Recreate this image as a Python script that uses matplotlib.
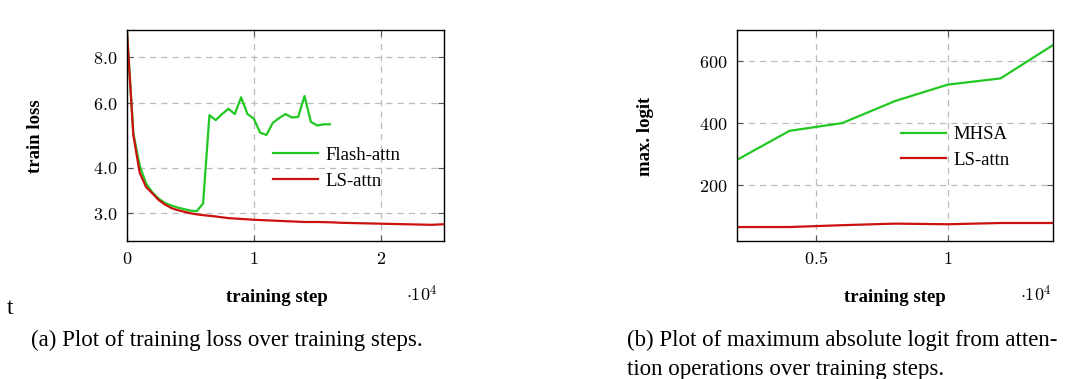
import matplotlib
matplotlib.use("Agg")
import matplotlib.pyplot as plt
from matplotlib.ticker import FixedLocator, FuncFormatter, NullLocator

plt.rcParams['font.family'] = ['Liberation Serif', 'DejaVu Serif']
plt.rcParams['mathtext.fontset'] = 'cm'

# (a) training loss, steps in units of 1e4
flash_step = [0, 0.05, 0.1, 0.15, 0.2, 0.25, 0.3, 0.35, 0.4, 0.45, 0.5, 0.55,
              0.6, 0.65, 0.7, 0.75, 0.8, 0.85, 0.9, 0.95, 1.0, 1.05, 1.1, 1.15,
              1.2, 1.25, 1.3, 1.35, 1.4, 1.45, 1.5, 1.55, 1.6]
flash_loss = [9.4, 4.96, 4.05, 3.62, 3.42, 3.29, 3.2, 3.15, 3.11, 3.08, 3.05, 3.04,
              3.19, 5.56, 5.39, 5.6, 5.79, 5.6, 6.22, 5.6, 5.44, 4.98, 4.91, 5.3,
              5.46, 5.6, 5.48, 5.5, 6.27, 5.33, 5.21, 5.25, 5.25]

ls_step = [0, 0.05, 0.1, 0.15, 0.2, 0.25, 0.3, 0.35, 0.4, 0.45, 0.5, 0.55, 0.6,
           0.7, 0.8, 0.9, 1.0, 1.1, 1.2, 1.3, 1.4, 1.5, 1.6, 1.7, 1.8, 1.9, 2.0,
           2.1, 2.2, 2.3, 2.4, 2.5]
ls_loss = [9.4, 4.9, 3.87, 3.54, 3.4, 3.26, 3.17, 3.1, 3.06, 3.03, 3.0, 2.98, 2.965,
           2.94, 2.91, 2.895, 2.88, 2.87, 2.86, 2.85, 2.84, 2.84, 2.835, 2.825, 2.82,
           2.815, 2.81, 2.805, 2.8, 2.795, 2.79, 2.8]

# (b) max. logit
logit_step = [0.2, 0.4, 0.6, 0.8, 1.0, 1.2, 1.4]
mhsa_logit = [281, 375, 400, 471, 524, 544, 652]
ls_logit = [65, 65, 71, 76, 74, 78, 78]

green = '#22c822'
red = '#cc1111'

W, H = 1067, 379
fig = plt.figure(figsize=(W / 100, H / 100), dpi=100)


def style(ax):
    ax.grid(True, color='#bbbbbb', linestyle=(0, (5, 4)), linewidth=0.9)
    ax.set_axisbelow(True)
    ax.tick_params(direction='in', top=True, right=True, labelsize=13,
                   length=4, color='#555555', pad=7)
    for s in ax.spines.values():
        s.set_linewidth(1.0)


cm = FuncFormatter(lambda v, p: '$%s$' % ('%g' % v))
leg_kw = dict(loc='center left', frameon=False, fontsize=13.5, handlelength=2.4,
              handletextpad=0.4, labelspacing=0.45, borderpad=0, borderaxespad=0)

ax1 = fig.add_axes([127 / W, 1 - 241 / H, 317 / W, 211 / H])
ax1.plot(flash_step, flash_loss, color=green, lw=1.6, label='Flash-attn')
ax1.plot(ls_step, ls_loss, color=red, lw=1.6, label='LS-attn')
ax1.set_yscale('log')
ax1.set_xlim(0, 2.5)
ax1.set_ylim(2.52, 9.5)
ax1.yaxis.set_major_locator(FixedLocator([3, 4, 6, 8]))
ax1.yaxis.set_minor_locator(NullLocator())
ax1.yaxis.set_major_formatter(FuncFormatter(lambda v, p: '$%.1f$' % v))
ax1.xaxis.set_major_locator(FixedLocator([0, 1, 2]))
ax1.xaxis.set_major_formatter(cm)
style(ax1)
ax1.legend(bbox_to_anchor=(0.46, 0.345), **leg_kw)

ax2 = fig.add_axes([736.7 / W, 1 - 241 / H, 316.6 / W, 211 / H])
ax2.plot(logit_step, mhsa_logit, color=green, lw=1.6, label='MHSA')
ax2.plot(logit_step, ls_logit, color=red, lw=1.6, label='LS-attn')
ax2.set_xlim(0.2, 1.4)
ax2.set_ylim(20, 700)
ax2.yaxis.set_major_locator(FixedLocator([200, 400, 600]))
ax2.yaxis.set_major_formatter(cm)
ax2.xaxis.set_major_locator(FixedLocator([0.5, 1]))
ax2.xaxis.set_major_formatter(cm)
style(ax2)
ax2.legend(bbox_to_anchor=(0.519, 0.443), **leg_kw)

# axis labels
fig.text(35 / W, 1 - 136 / H, 'train loss', rotation=90, fontsize=13.5,
         fontweight='bold', ha='center', va='center')
fig.text(645 / W, 1 - 136 / H, 'max. logit', rotation=90, fontsize=13.5,
         fontweight='bold', ha='center', va='center')
fig.text(277 / W, 1 - 298 / H, 'training step', fontsize=13.5,
         fontweight='bold', ha='center', va='center')
fig.text(895 / W, 1 - 298 / H, 'training step', fontsize=13.5,
         fontweight='bold', ha='center', va='center')
fig.text(422 / W, 1 - 295 / H, r'$\cdot 10^4$', fontsize=13,
         ha='center', va='center')
fig.text(1036 / W, 1 - 295 / H, r'$\cdot 10^4$', fontsize=13,
         ha='center', va='center')

fig.text(10 / W, 1 - 309 / H, 't', fontsize=17, ha='center', va='center')

# captions
fig.text(31 / W, 1 - 340 / H, '(a) Plot of training loss over training steps.',
         fontsize=16.5, ha='left', va='center')
fig.text(627 / W, 1 - 340 / H, '(b) Plot of maximum absolute logit from atten-',
         fontsize=16.5, ha='left', va='center')
fig.text(627 / W, 1 - 369 / H, 'tion operations over training steps.',
         fontsize=16.5, ha='left', va='center')

fig.savefig('out.png', dpi=100)
